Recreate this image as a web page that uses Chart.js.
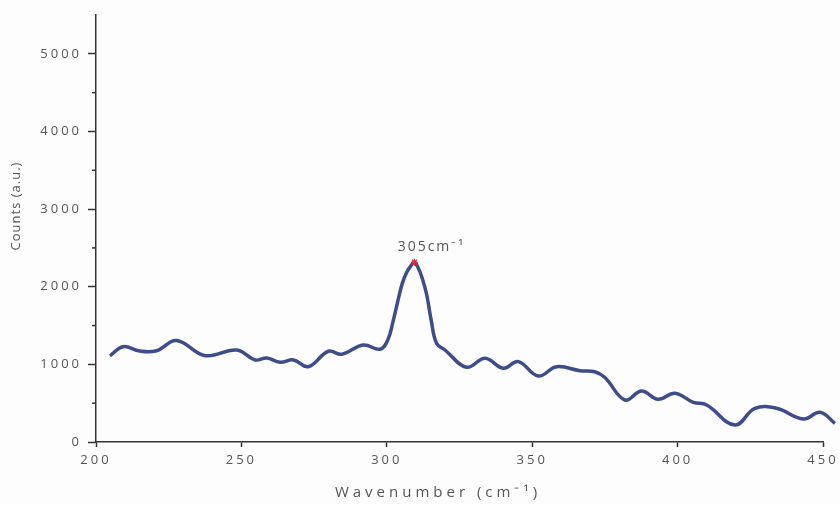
<!DOCTYPE html>
<html>
<head>
<meta charset="utf-8">
<script src="https://cdn.jsdelivr.net/npm/chart.js@4"></script>
<style>
  html, body { margin: 0; padding: 0; background: #fdfdfd; }
  #wrap { width: 840px; height: 505px; }
</style>
</head>
<body>
<div id="wrap"><canvas id="ramanChart"></canvas></div>
<script>
const wavenumber = [204.8, 209.3, 215, 220.8, 227.7, 237.5, 248.4, 254.7, 258.7, 263.3, 267.9, 273,
    279.9, 284.5, 291.9, 297.7, 300.3, 302.2, 303.7, 305.3, 306.9, 308.3, 309.5, 310.7, 312.1,
    313.7, 315.3, 317.1, 320, 327.4, 333.8, 340, 345.2, 352.1, 358.4, 366.4, 371.5, 375, 381.9,
    387.6, 393.3, 399.1, 405.4, 410, 419.7, 426.6, 434, 443.2, 449, 454.1];
const counts = [1110, 1228, 1173, 1176, 1306, 1112, 1185, 1057, 1082, 1027, 1057, 970,
    1169, 1130, 1250, 1195, 1310, 1560, 1800, 2040, 2190, 2270, 2315, 2250, 2120,
    1900, 1560, 1272, 1185, 963, 1079, 950, 1035, 850, 970, 919, 905, 830, 541,
    657, 550, 627, 511, 477, 219, 434, 434, 296, 383, 241];
const xTicks = [200, 250, 300, 350, 400, 450];
const yTicks = [0, 1000, 2000, 3000, 4000, 5000];
const yMinorTicks = [500, 1500, 2500, 3500, 4500];
const peakLabel = '305cm⁻¹';

const peakIdx = counts.indexOf(Math.max(...counts));
const spectrum = wavenumber.map((w, i) => ({ x: w, y: counts[i] }));

const textColor = '#555';
const axisColor = '#333';

// wide letter spacing, minor ticks, titles and the peak note
const decorations = {
    id: 'decorations',
    beforeDraw(chart) {
        chart.ctx.letterSpacing = '3px';
    },
    afterDraw(chart) {
        const ctx = chart.ctx;
        const xs = chart.scales.x;
        const ys = chart.scales.y;
        ctx.save();
        ctx.strokeStyle = axisColor;
        ctx.lineWidth = 1.5;
        yMinorTicks.forEach(v => {
            const py = ys.getPixelForValue(v);
            ctx.beginPath();
            ctx.moveTo(xs.left - 4, py);
            ctx.lineTo(xs.left, py);
            ctx.stroke();
        });

        ctx.fillStyle = textColor;
        ctx.textAlign = 'center';
        ctx.textBaseline = 'alphabetic';

        // peak note
        ctx.font = '14px "Open Sans"';
        ctx.letterSpacing = '2px';
        const px = xs.getPixelForValue(wavenumber[peakIdx]);
        const py = ys.getPixelForValue(counts[peakIdx]);
        ctx.fillText(peakLabel, px + 17, py - 11);

        // x title
        ctx.font = '15px "Open Sans"';
        ctx.letterSpacing = '4px';
        ctx.textBaseline = 'middle';
        ctx.fillText('Wavenumber (cm⁻¹)', 438, 493);

        // y title
        ctx.font = '13px "Open Sans"';
        ctx.letterSpacing = '1px';
        ctx.translate(16, 206);
        ctx.rotate(-Math.PI / 2);
        ctx.fillText('Counts (a.u.)', 0, 0);
        ctx.restore();
    }
};

new Chart(document.getElementById('ramanChart'), {
    type: 'line',
    data: {
        datasets: [{
            label: 'Spectrum',
            data: spectrum,
            borderColor: '#3e4d8a',
            borderWidth: 3.5,
            pointRadius: 0,
            tension: 0.4,
            clip: false,
            order: 2
        }, {
            label: 'Peak',
            data: [spectrum[peakIdx]],
            showLine: false,
            pointStyle: 'star',
            pointRadius: 3.5,
            borderColor: '#d03040',
            borderWidth: 1.2,
            order: 1
        }]
    },
    options: {
        responsive: true,
        maintainAspectRatio: false,
        animation: false,
        layout: { padding: { top: 15, right: 17, left: 0, bottom: 0 } },
        plugins: {
            legend: { display: false },
            tooltip: { enabled: false }
        },
        scales: {
            x: {
                type: 'linear',
                min: 200,
                max: 450,
                afterBuildTicks: s => { s.ticks = xTicks.map(v => ({ value: v })); },
                afterFit: s => { s.height = 63; },
                ticks: {
                    color: textColor,
                    font: { family: 'Open Sans', size: 13 },
                    padding: 5,
                    maxRotation: 0,
                    callback: v => String(v)
                },
                grid: {
                    drawOnChartArea: false,
                    color: axisColor,
                    tickColor: axisColor,
                    tickLength: 5,
                    tickWidth: 1.5
                },
                border: { color: axisColor, width: 1.5 }
            },
            y: {
                min: 0,
                max: 5500,
                afterBuildTicks: s => { s.ticks = yTicks.map(v => ({ value: v })); },
                afterFit: s => { s.width = 96; },
                ticks: {
                    color: textColor,
                    font: { family: 'Open Sans', size: 13 },
                    padding: 6,
                    callback: v => String(v)
                },
                grid: {
                    drawOnChartArea: false,
                    color: axisColor,
                    tickColor: axisColor,
                    tickLength: 8,
                    tickWidth: 1.5
                },
                border: { color: axisColor, width: 1.5 }
            }
        }
    },
    plugins: [decorations]
});
</script>
</body>
</html>
